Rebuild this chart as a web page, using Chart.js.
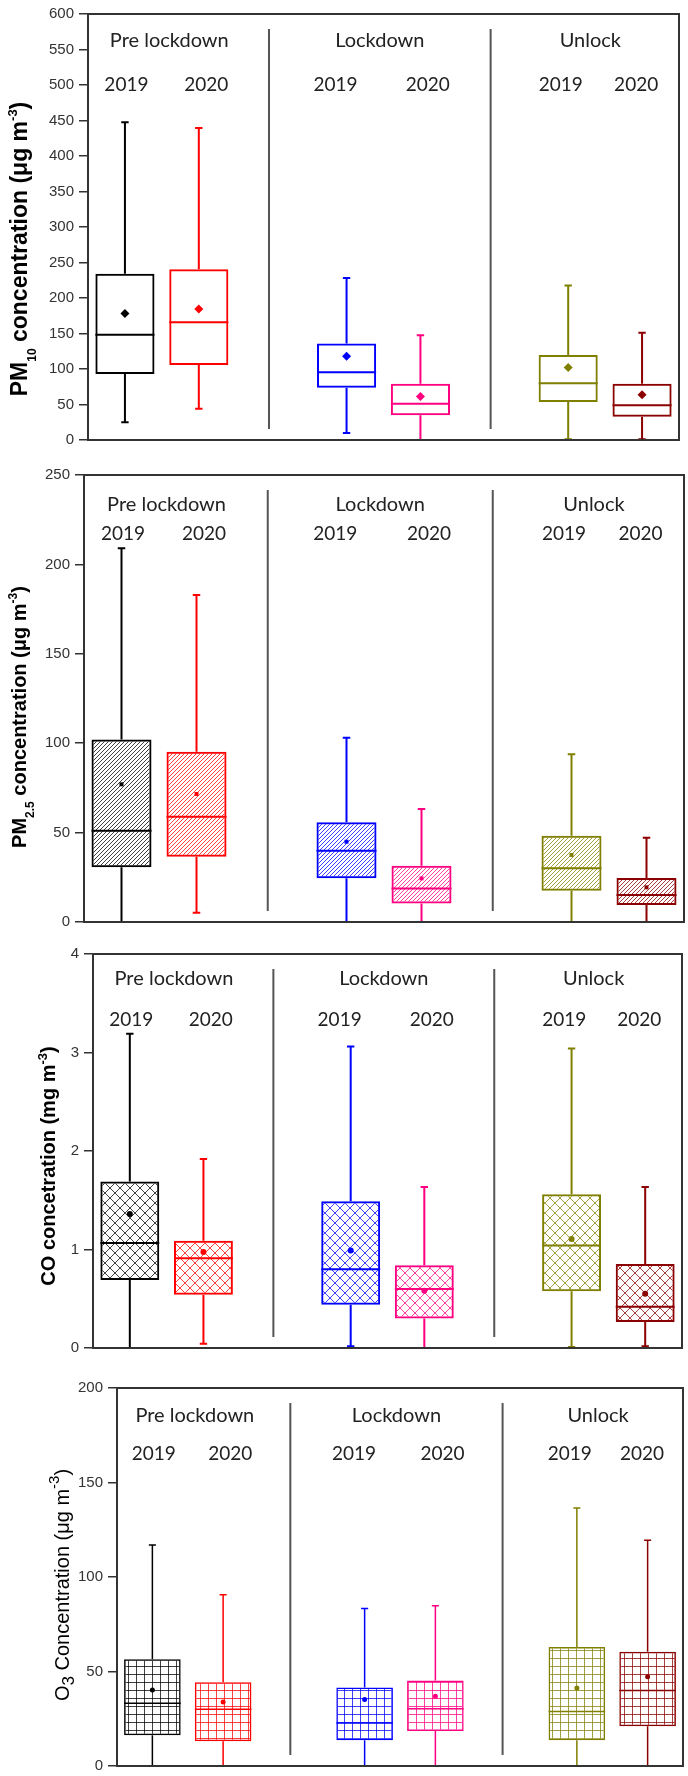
<!DOCTYPE html>
<html>
<head>
<meta charset="utf-8">
<script src="https://cdn.jsdelivr.net/npm/chart.js@4.4.1/dist/chart.umd.min.js"></script>
<style>
    html, body { margin: 0; padding: 0; background: #fff; overflow: hidden; }
    #wrap { position: relative; width: 688px; height: 1776px; overflow: hidden; }
    #wrap canvas { position: absolute; left: 0; }
</style>
</head>
<body>
<div id="wrap">
    <canvas id="pm10" width="688" height="458" style="top:0px"></canvas>
    <canvas id="pm25" width="688" height="480" style="top:458px"></canvas>
    <canvas id="co" width="688" height="432" style="top:938px"></canvas>
    <canvas id="o3" width="688" height="410" style="top:1370px"></canvas>
</div>
<script>
// Categorías
var periodos = ['Pre lockdown', 'Lockdown', 'Unlock'];
var anios = ['2019', '2020', '2019', '2020', '2019', '2020'];
var huecos = [0, 1, 3, 4, 6, 7];   // posición de cada caja en el eje x (2 y 5 quedan libres)
var colores = ['#000000', '#ff0000', '#0000ff', '#ff0080', '#808000', '#8b0000'];

// PM10 (µg m-3)
var pm10Min = [25, 44, 10, 0, 1, 1];
var pm10Q1 = [93, 105.6, 73.5, 35, 53.5, 32.6];
var pm10Med = [148.4, 166, 95.3, 51.2, 80, 48.8];
var pm10Q3 = [234, 240.4, 135.8, 79.1, 119.6, 79.1];
var pm10Max = [447.5, 439.5, 228, 147.5, 217.7, 151.2];
var pm10Media = [178, 184.6, 118, 61.4, 102, 63.7];

// PM2.5 (µg m-3)
var pm25Min = [0, 5.2, 0, 0, 0, 0];
var pm25Q1 = [30.6, 36.5, 24.4, 10.4, 17.5, 9.5];
var pm25Med = [51.1, 58.9, 39.9, 18.8, 30, 15.1];
var pm25Q3 = [102.1, 95.2, 55.8, 31.5, 48.3, 24.6];
var pm25Max = [209, 182.9, 103, 63.2, 93.8, 47.1];
var pm25Media = [77, 71.6, 44.9, 24.4, 37.5, 19.4];

// CO (mg m-3)
var coMin = [0, 0.044, 0.017, 0, 0.01, 0.017];
var coQ1 = [0.69, 0.54, 0.44, 0.3, 0.575, 0.264];
var coMed = [1.066, 0.91, 0.8, 0.6, 1.04, 0.42];
var coQ3 = [1.69, 1.09, 1.49, 0.84, 1.56, 0.853];
var coMax = [3.19, 1.92, 3.06, 1.635, 3.04, 1.635];
var coMedia = [1.36, 0.975, 0.99, 0.58, 1.107, 0.55];

// O3 (µg m-3)
var o3Min = [0, 0, 0, 0, 0, 0];
var o3Q1 = [16.3, 13.1, 13.6, 18.5, 13.6, 21];
var o3Med = [33.2, 30, 22.7, 30.3, 28.9, 39.9];
var o3Q3 = [56.5, 44.3, 41.6, 45.3, 63, 60.5];
var o3Max = [116.9, 90.6, 83.3, 84.8, 136.5, 119.5];
var o3Media = [40.2, 33.9, 35.2, 36.9, 41.3, 47.2];

// Posición de los rótulos (en unidades del eje x)
var xPeriodos = [0.6, 3.45, 6.3];
var xAnios = [0.02, 1.1, 2.85, 4.1, 5.9, 6.92];
var xDivisiones = [1.95, 4.95];

var fuenteEjes = '"Liberation Sans", Arial, sans-serif';
var fuenteRotulos = 'Lato, "Open Sans", sans-serif';

// Función para crear el relleno rayado de las cajas
function crearPatron(tipo, color) {
    if (!tipo) {
        return 'rgba(0,0,0,0)';
    }
    var c = document.createElement('canvas');
    var ctx = c.getContext('2d');
    var t;
    if (tipo === 'diagonal') {
        t = 4;
    } else if (tipo === 'cruzado') {
        t = 10;
    } else {
        t = 8;
    }
    c.width = t;
    c.height = t;
    ctx.strokeStyle = color;
    ctx.globalAlpha = 0.75;
    ctx.lineWidth = 1;
    ctx.beginPath();
    if (tipo === 'diagonal') {
        ctx.moveTo(0, t); ctx.lineTo(t, 0);
        ctx.moveTo(-1, 1); ctx.lineTo(1, -1);
        ctx.moveTo(t - 1, t + 1); ctx.lineTo(t + 1, t - 1);
    } else if (tipo === 'cruzado') {
        ctx.moveTo(0, 0); ctx.lineTo(t, t);
        ctx.moveTo(0, t); ctx.lineTo(t, 0);
    } else {
        ctx.moveTo(0.5, 0); ctx.lineTo(0.5, t);
        ctx.moveTo(0, 0.5); ctx.lineTo(t, 0.5);
    }
    ctx.stroke();
    return ctx.createPattern(c, 'repeat');
}

// Función para dibujar el título del eje y, girado, con sub y superíndices
function dibujarTitulo(ctx, titulo) {
    ctx.save();
    ctx.translate(titulo.x, titulo.y);
    ctx.rotate(-Math.PI / 2);
    ctx.fillStyle = '#000';
    ctx.textAlign = 'left';
    ctx.textBaseline = 'alphabetic';
    var total = 0;
    titulo.partes.forEach(function (p) {
        ctx.font = titulo.peso + ' ' + p[1] + 'px ' + fuenteEjes;
        total += ctx.measureText(p[0]).width;
    });
    var pos = -total / 2;
    titulo.partes.forEach(function (p) {
        ctx.font = titulo.peso + ' ' + p[1] + 'px ' + fuenteEjes;
        ctx.fillText(p[0], pos, p[2]);
        pos += ctx.measureText(p[0]).width;
    });
    ctx.restore();
}

// Plugin de cada panel: marco, divisiones, rótulos, bigotes y medianas
function crearPlugin(panel) {
    return {
        id: 'panel_' + panel.id,
        beforeDatasetsDraw: function (chart) {
            var ctx = chart.ctx;
            var a = chart.chartArea;
            var x = chart.scales.x;
            ctx.save();
            ctx.strokeStyle = '#555';
            ctx.lineWidth = 2;
            ctx.beginPath();
            xDivisiones.forEach(function (d) {
                var px = x.getPixelForValue(d);
                ctx.moveTo(px, a.top + 15);
                ctx.lineTo(px, a.bottom - 11);
            });
            ctx.stroke();
            ctx.restore();
        },
        afterDatasetDraw: function (chart, args) {
            if (args.index !== 0) {
                return;
            }
            var ctx = chart.ctx;
            var x = chart.scales.x;
            var y = chart.scales.y;
            var tapa = x.getPixelForValue(0.05) - x.getPixelForValue(0);
            var mitad = x.getPixelForValue(0.4) - x.getPixelForValue(0);
            ctx.save();
            ctx.lineWidth = panel.grosor;
            for (var i = 0; i < huecos.length; i++) {
                var cx = x.getPixelForValue(huecos[i]);
                var yMax = y.getPixelForValue(panel.max[i]);
                var yMin = y.getPixelForValue(panel.min[i]);
                var yMed = y.getPixelForValue(panel.med[i]);
                ctx.strokeStyle = colores[i];
                ctx.beginPath();
                ctx.moveTo(cx, y.getPixelForValue(panel.q3[i]));
                ctx.lineTo(cx, yMax);
                ctx.moveTo(cx - tapa, yMax);
                ctx.lineTo(cx + tapa, yMax);
                ctx.moveTo(cx, y.getPixelForValue(panel.q1[i]));
                ctx.lineTo(cx, yMin);
                ctx.moveTo(cx - tapa, yMin);
                ctx.lineTo(cx + tapa, yMin);
                ctx.moveTo(cx - mitad, yMed);
                ctx.lineTo(cx + mitad, yMed);
                ctx.stroke();
            }
            ctx.restore();
        },
        afterDraw: function (chart) {
            var ctx = chart.ctx;
            var a = chart.chartArea;
            var x = chart.scales.x;
            ctx.save();
            ctx.strokeStyle = '#333';
            ctx.lineWidth = 2;
            ctx.strokeRect(a.left, a.top, a.right - a.left, a.bottom - a.top);
            ctx.fillStyle = '#222';
            ctx.textAlign = 'center';
            ctx.textBaseline = 'alphabetic';
            ctx.font = '20px ' + fuenteRotulos;
            periodos.forEach(function (p, i) {
                ctx.fillText(p, x.getPixelForValue(xPeriodos[i]), a.top + panel.yPeriodo);
            });
            ctx.font = '19px ' + fuenteRotulos;
            anios.forEach(function (p, i) {
                ctx.fillText(p, x.getPixelForValue(xAnios[i]), a.top + panel.yAnio);
            });
            ctx.restore();
            dibujarTitulo(ctx, panel.titulo);
        }
    };
}

// Los títulos van en coordenadas del canvas de cada panel
var paneles = [
    {
        id: 'pm10', min: pm10Min, q1: pm10Q1, med: pm10Med, q3: pm10Q3, max: pm10Max, media: pm10Media,
        yMax: 600, paso: 50, relleno: null, punto: 'rectRot', radio: 4.5, grosor: 2,
        ancho: 88, pad: { top: 10, bottom: 18, right: 9 }, yPeriodo: 33, yAnio: 77,
        titulo: { x: 27, y: 249, peso: 'bold', partes: [['PM', 23, 0], ['10', 12, 9], [' concentration (\u03bcg m', 23, 0], ['-3', 13, -10], [')', 23, 0]] }
    },
    {
        id: 'pm25', min: pm25Min, q1: pm25Q1, med: pm25Med, q3: pm25Q3, max: pm25Max, media: pm25Media,
        yMax: 250, paso: 50, relleno: 'diagonal', punto: 'rect', radio: 2.8, grosor: 2,
        ancho: 84, pad: { top: 17, bottom: 16, right: 3 }, yPeriodo: 36, yAnio: 65,
        titulo: { x: 26, y: 717 - 458, peso: 'bold', partes: [['PM', 20, 0], ['2.5', 12, 8], [' concentration (\u03bcg m', 20, 0], ['-3', 12, -9], [')', 20, 0]] }
    },
    {
        id: 'co', min: coMin, q1: coQ1, med: coMed, q3: coQ3, max: coMax, media: coMedia,
        yMax: 4, paso: 1, relleno: 'cruzado', punto: 'circle', radio: 3, grosor: 2,
        ancho: 93, pad: { top: 16, bottom: 22, right: 6 }, yPeriodo: 31, yAnio: 72,
        titulo: { x: 55, y: 1166 - 938, peso: 'bold', partes: [['CO concetration (mg m', 20, 0], ['-3', 13, -8], [')', 20, 0]] }
    },
    {
        id: 'o3', min: o3Min, q1: o3Q1, med: o3Med, q3: o3Q3, max: o3Max, media: o3Media,
        yMax: 200, paso: 50, relleno: 'rejilla', punto: 'circle', radio: 2.5, grosor: 1.5,
        ancho: 117, pad: { top: 18, bottom: 11, right: 5 }, yPeriodo: 34, yAnio: 72,
        titulo: { x: 69, y: 1585 - 1370, peso: 'normal', partes: [['O', 20, 0], ['3', 17, 5], [' Concentration (\u03bcg m', 20, 0], ['-3', 15, -10], [')', 20, 0]] }
    }
];

// Crear las gráficas
paneles.forEach(function (panel) {
    var cajas = [];
    var medias = [];
    var rellenos = [];
    for (var i = 0; i < huecos.length; i++) {
        cajas.push({ x: huecos[i], y: [panel.q1[i], panel.q3[i]] });
        medias.push({ x: huecos[i], y: panel.media[i] });
        rellenos.push(crearPatron(panel.relleno, colores[i]));
    }
    var ctx = document.getElementById(panel.id).getContext('2d');
    new Chart(ctx, {
        type: 'bar',
        data: {
            datasets: [{
                type: 'bar',
                data: cajas,
                backgroundColor: rellenos,
                borderColor: colores,
                borderWidth: panel.grosor,
                borderSkipped: false,
                categoryPercentage: 1,
                barPercentage: 0.8,
                order: 2
            }, {
                type: 'scatter',
                data: medias,
                pointStyle: panel.punto,
                pointRadius: panel.radio,
                backgroundColor: colores,
                borderColor: colores,
                borderWidth: 0,
                order: 1
            }]
        },
        options: {
            responsive: false,
            animation: false,
            events: [],
            devicePixelRatio: 1,
            layout: { padding: { left: 0, top: panel.pad.top, bottom: panel.pad.bottom, right: panel.pad.right } },
            plugins: { legend: { display: false }, tooltip: { enabled: false } },
            scales: {
                x: {
                    type: 'linear',
                    min: -0.5,
                    max: 7.5,
                    offset: false,
                    display: false,
                    afterBuildTicks: function (scale) { scale.ticks = []; }
                },
                y: {
                    min: 0,
                    max: panel.yMax,
                    ticks: {
                        stepSize: panel.paso,
                        autoSkip: false,
                        padding: 5,
                        color: '#333',
                        font: { family: fuenteEjes, size: 15 }
                    },
                    grid: { drawOnChartArea: false, drawTicks: true, tickLength: 9, color: '#333', lineWidth: 1.5 },
                    border: { display: false },
                    afterFit: function (scale) { scale.width = panel.ancho; }
                }
            }
        },
        plugins: [crearPlugin(panel)]
    });
});
</script>
</body>
</html>
